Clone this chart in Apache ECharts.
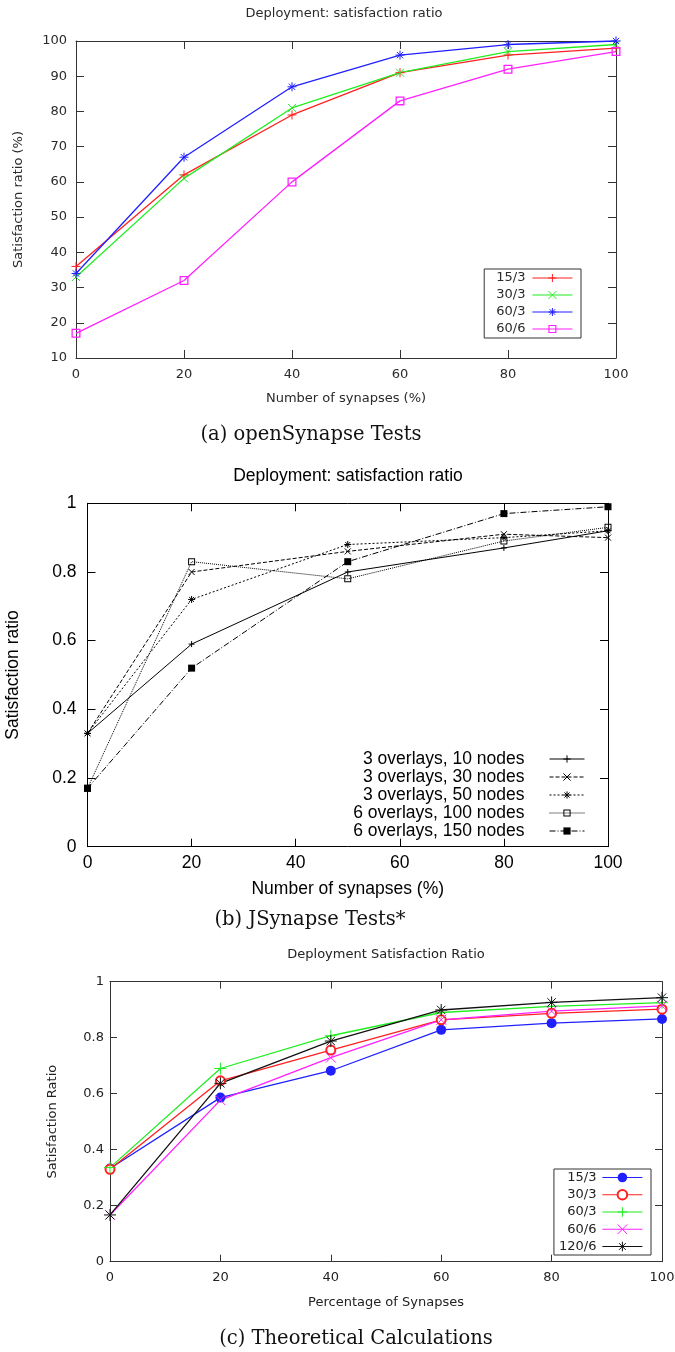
<!DOCTYPE html>
<html>
<head>
<meta charset="utf-8">
<script src="https://cdn.jsdelivr.net/npm/echarts@6/dist/echarts.min.js"></script>
<style>html,body{margin:0;padding:0;background:#fff}#c{width:675px;height:1352px}</style>
</head>
<body>
<div id="c"></div>
<script>
// ---------- Chart (a): openSynapse Tests ----------
const xTicksA = [0, 20, 40, 60, 80, 100];
const yTicksA = [10, 20, 30, 40, 50, 60, 70, 80, 90, 100];
const synA = [0, 20, 40, 60, 80, 100];
const namesA = ['15/3', '30/3', '60/3', '60/6'];
const a15_3 = [36, 62, 79, 91, 96, 98];
const a30_3 = [33, 61, 81, 91, 97, 99];
const a60_3 = [34, 67, 87, 96, 99, 100];
const a60_6 = [17, 32, 60, 83, 92, 97];

// ---------- Chart (b): JSynapse Tests ----------
const xTicksB = [0, 20, 40, 60, 80, 100];
const yTicksB = [0, 0.2, 0.4, 0.6, 0.8, 1];
const synB = [0, 20, 50, 80, 100];
const namesB = ['3 overlays, 10 nodes', '3 overlays, 30 nodes', '3 overlays, 50 nodes', '6 overlays, 100 nodes', '6 overlays, 150 nodes'];
const b3_10 = [0.33, 0.59, 0.80, 0.87, 0.92];
const b3_30 = [0.33, 0.80, 0.86, 0.91, 0.90];
const b3_50 = [0.33, 0.72, 0.88, 0.90, 0.92];
const b6_100 = [0.17, 0.83, 0.78, 0.89, 0.93];
const b6_150 = [0.17, 0.52, 0.83, 0.97, 0.99];

// ---------- Chart (c): Theoretical Calculations ----------
const xTicksC = [0, 20, 40, 60, 80, 100];
const yTicksC = [0, 0.2, 0.4, 0.6, 0.8, 1];
const synC = [0, 20, 40, 60, 80, 100];
const namesC = ['15/3', '30/3', '60/3', '60/6', '120/6'];
const c15_3 = [0.333, 0.586, 0.682, 0.828, 0.852, 0.867];
const c30_3 = [0.330, 0.646, 0.756, 0.864, 0.887, 0.902];
const c60_3 = [0.336, 0.690, 0.807, 0.890, 0.912, 0.925];
const c60_6 = [0.167, 0.577, 0.729, 0.864, 0.895, 0.914];
const c120_6 = [0.167, 0.637, 0.788, 0.899, 0.926, 0.943];

const titles = ['Deployment: satisfaction ratio', 'Deployment: satisfaction ratio', 'Deployment Satisfaction Ratio'];
const xNames = ['Number of synapses (%)', 'Number of synapses (%)', 'Percentage of Synapses'];
const yNames = ['Satisfaction ratio (%)', 'Satisfaction ratio', 'Satisfaction Ratio'];
const captions = ['(a) openSynapse Tests', '(b) JSynapse Tests*', '(c) Theoretical Calculations'];

// symbols (stroke-drawn paths)
const SYM_PLUS = 'path://M5,0L5,10M0,5L10,5';
const SYM_CROSS = 'path://M0,0L10,10M10,0L0,10';
const SYM_STAR = 'path://M5,0L5,10M0,5L10,5M1.5,1.5L8.5,8.5M8.5,1.5L1.5,8.5';
const SYM_OSQ = 'path://M0,0L10,0L10,10L0,10ZM1.4,1.4L1.4,8.6L8.6,8.6L8.6,1.4Z';

function axes(kind, gridIndex, ticks, o) {
  const common = {
    type: 'value', gridIndex: gridIndex,
    min: ticks[0], max: ticks[ticks.length - 1], interval: ticks[1] - ticks[0],
    splitLine: { show: false },
    axisLine: { show: true, onZero: false, lineStyle: { color: o.frame, width: 1 } },
    axisTick: { show: true, inside: true, length: o.tick, lineStyle: { color: o.frame, width: 1 } }
  };
  const main = Object.assign({}, common, {
    position: kind === 'x' ? 'bottom' : 'left',
    name: o.name, nameLocation: 'middle', nameGap: o.nameGap,
    nameTextStyle: { fontFamily: o.font, fontSize: o.fs, color: o.color },
    axisLabel: { show: true, margin: o.margin, fontFamily: o.font, fontSize: o.fs, color: o.color }
  });
  const mirror = Object.assign({}, common, {
    position: kind === 'x' ? 'top' : 'right',
    axisLabel: { show: false }
  });
  return [main, mirror];
}

function mkSeries(prefix, name, xs, ys, gi, color, symbol, size, lw, lineType, bw) {
  return {
    type: 'line', name: prefix + '|' + name,
    xAxisIndex: gi * 2, yAxisIndex: gi * 2,
    data: xs.map((x, i) => [x, ys[i]]),
    symbol: symbol, symbolSize: size, showSymbol: true, clip: false,
    lineStyle: { color: color, width: lw, type: lineType || 'solid' },
    itemStyle: { color: color, borderColor: color, borderWidth: bw == null ? 1 : bw },
    emphasis: { disabled: true },
    animation: false, z: 3
  };
}

const fA = 'DejaVu Sans', fB = 'Liberation Sans', fC = 'DejaVu Sans';
const colA = '#2a2a2a', colB = '#000', colC = '#222';

const xAxis = [].concat(
  axes('x', 0, xTicksA, { frame: '#333', tick: 8, name: xNames[0], nameGap: 34, font: fA, fs: 13, color: colA, margin: 10 }),
  axes('x', 1, xTicksB, { frame: '#000', tick: 8, name: xNames[1], nameGap: 33, font: fB, fs: 17.5, color: colB, margin: 7 }),
  axes('x', 2, xTicksC, { frame: '#333', tick: 7, name: xNames[2], nameGap: 34, font: fC, fs: 13, color: colC, margin: 9.5 })
);
const yAxis = [].concat(
  axes('y', 0, yTicksA, { frame: '#333', tick: 8, name: yNames[0], nameGap: 51, font: fA, fs: 13, color: colA, margin: 9 }),
  axes('y', 1, yTicksB, { frame: '#000', tick: 8, name: yNames[1], nameGap: 65, font: fB, fs: 17.5, color: colB, margin: 11 }),
  axes('y', 2, yTicksC, { frame: '#333', tick: 7, name: yNames[2], nameGap: 51, font: fC, fs: 13, color: colC, margin: 6 })
);

const series = [
  mkSeries('a', namesA[0], synA, a15_3, 0, '#ff2020', SYM_PLUS, 9, 1.3),
  mkSeries('a', namesA[1], synA, a30_3, 0, '#20ee20', SYM_CROSS, 8, 1.3),
  mkSeries('a', namesA[2], synA, a60_3, 0, '#2020ff', SYM_STAR, 9, 1.3),
  mkSeries('a', namesA[3], synA, a60_6, 0, '#ff20ff', SYM_OSQ, 9, 1.3, 'solid', 0),

  mkSeries('b', namesB[0], synB, b3_10, 1, '#000', SYM_PLUS, 6, 1, 'solid'),
  mkSeries('b', namesB[1], synB, b3_30, 1, '#000', SYM_CROSS, 6, 1, [4, 2]),
  mkSeries('b', namesB[2], synB, b3_50, 1, '#000', SYM_STAR, 7, 1, [2, 2]),
  mkSeries('b', namesB[3], synB, b6_100, 1, '#000', SYM_OSQ, 7, 1, [1, 1], 0),
  mkSeries('b', namesB[4], synB, b6_150, 1, '#000', 'rect', 7, 1, [6, 2, 1, 2], 0),

  mkSeries('c', namesC[0], synC, c15_3, 2, '#2020ff', 'circle', 10, 1.3, 'solid', 0),
  mkSeries('c', namesC[1], synC, c30_3, 2, '#ff2020', 'emptyCircle', 9, 1.3, 'solid', 1.5),
  mkSeries('c', namesC[2], synC, c60_3, 2, '#20ee20', SYM_PLUS, 12, 1.3),
  mkSeries('c', namesC[3], synC, c60_6, 2, '#ff20ff', SYM_CROSS, 10, 1.3),
  mkSeries('c', namesC[4], synC, c120_6, 2, '#111', SYM_STAR, 12, 1.3)
];

const strip = n => n.split('|')[1];
const legend = [
  {
    orient: 'vertical', right: 94, top: 269, padding: [2.5, 8, 2.5, 12],
    borderColor: '#333', borderWidth: 1, backgroundColor: '#fff',
    itemWidth: 40, itemHeight: 10, itemGap: 4, align: 'right', selectedMode: false,
    data: namesA.map(n => 'a|' + n), formatter: strip,
    itemStyle: { borderWidth: 'inherit' },
    lineStyle: { width: 1.2 },
    textStyle: { fontFamily: fA, fontSize: 13, color: colA, padding: [0, 2, 0, 0] }
  },
  {
    orient: 'vertical', right: 90, top: 750, padding: 0,
    itemWidth: 35, itemHeight: 9, itemGap: 0, align: 'right', selectedMode: false,
    data: namesB.map(n => 'b|' + n), formatter: strip,
    itemStyle: { borderWidth: 'inherit' },
    lineStyle: { width: 1 },
    textStyle: { fontFamily: fB, fontSize: 17.5, color: colB, padding: [0, 20, 0, 0] }
  },
  {
    orient: 'vertical', right: 24, top: 1169, padding: [2, 8, 2, 5],
    borderColor: '#333', borderWidth: 1, backgroundColor: '#fff',
    itemWidth: 40, itemHeight: 12, itemGap: 4.25, align: 'right', selectedMode: false,
    data: namesC.map(n => 'c|' + n), formatter: strip,
    itemStyle: { borderWidth: 'inherit' },
    lineStyle: { width: 1.2 },
    textStyle: { fontFamily: fC, fontSize: 13, color: colC, padding: [0, 1, 0, 0] }
  }
];

const title = [
  { text: titles[0], left: 344, top: 7.5, textAlign: 'center', padding: 0,
    textStyle: { fontFamily: fA, fontSize: 13, fontWeight: 'normal', color: colA } },
  { text: titles[1], left: 348, top: 467, textAlign: 'center', padding: 0,
    textStyle: { fontFamily: fB, fontSize: 17.5, fontWeight: 'normal', color: colB } },
  { text: titles[2], left: 386, top: 948.5, textAlign: 'center', padding: 0,
    textStyle: { fontFamily: fC, fontSize: 13, fontWeight: 'normal', color: colC } }
];

const capPos = [[311, 435], [310, 920], [356, 1339]];
const graphic = captions.map((t, i) => ({
  type: 'text', x: capPos[i][0], y: capPos[i][1], silent: true,
  style: { text: t, font: '19.5px "DejaVu Serif"', fill: '#111', align: 'center', verticalAlign: 'middle' }
}));

const chart = echarts.init(document.getElementById('c'), null, { renderer: 'canvas' });
chart.setOption({
  backgroundColor: '#fff',
  animation: false,
  title: title,
  grid: [
    { left: 76, right: 59, top: 41, bottom: 994, containLabel: false, outerBoundsMode: 'none' },
    { left: 87.5, right: 67, top: 503.3, bottom: 505.3, containLabel: false, outerBoundsMode: 'none' },
    { left: 110, right: 13, top: 981.7, bottom: 90.3, containLabel: false, outerBoundsMode: 'none' }
  ],
  xAxis: xAxis,
  yAxis: yAxis,
  legend: legend,
  series: series,
  graphic: graphic,
  tooltip: { show: false }
});
</script>
</body>
</html>
